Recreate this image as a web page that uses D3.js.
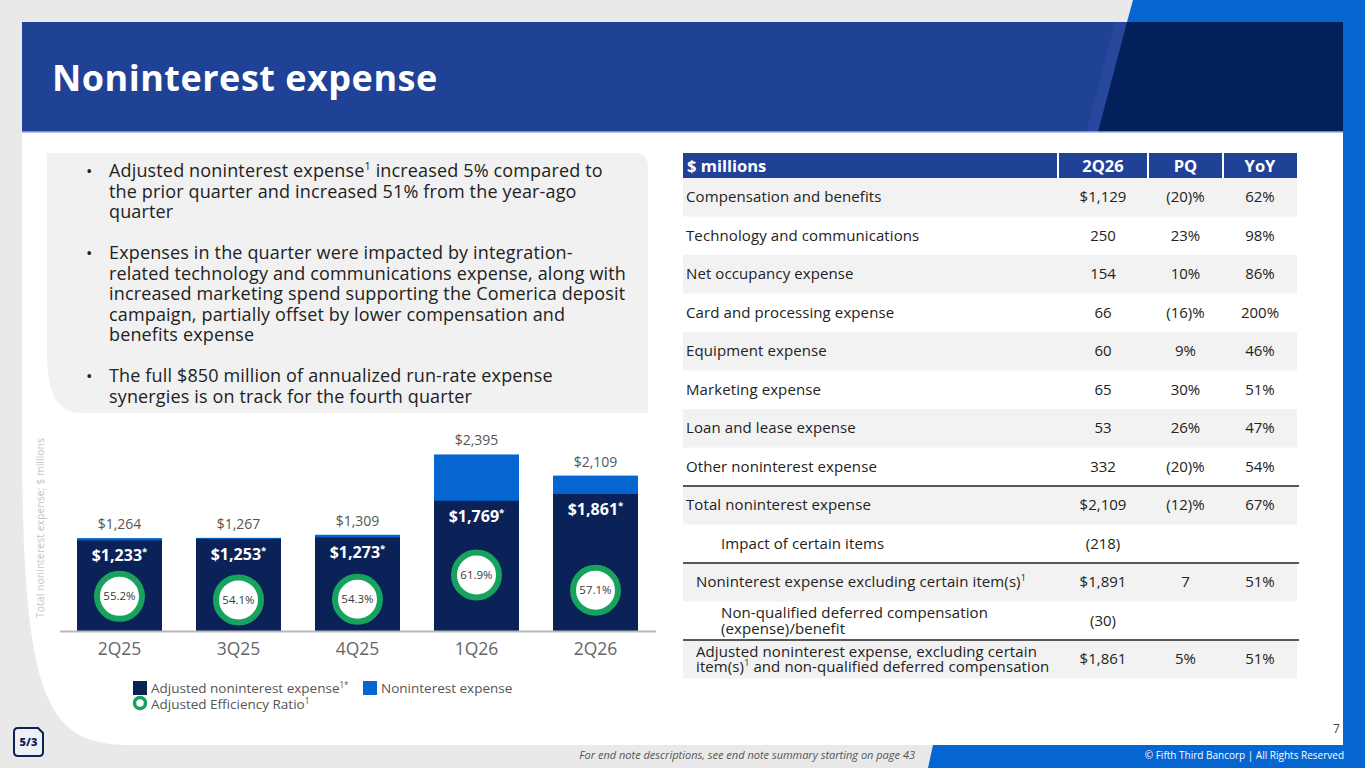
<!DOCTYPE html>
<html>
<head>
<meta charset="utf-8">
<script src="https://cdn.jsdelivr.net/npm/d3@7"></script>
<style>
  body { margin: 0; background: #e9e9e9; }
  svg { display: block; font-family: "Open Sans", sans-serif; }
</style>
</head>
<body>
<div id="slide"></div>
<script>
// chart data
const quarters = ["2Q25", "3Q25", "4Q25", "1Q26", "2Q26"];
const totalExpense = [1264, 1267, 1309, 2395, 2109];
const adjustedExpense = [1233, 1253, 1273, 1769, 1861];
const efficiencyRatio = [55.2, 54.1, 54.3, 61.9, 57.1];

// table data
const tableHeader = ["$ millions", "2Q26", "PQ", "YoY"];
const rowLabels = [
    "Compensation and benefits",
    "Technology and communications",
    "Net occupancy expense",
    "Card and processing expense",
    "Equipment expense",
    "Marketing expense",
    "Loan and lease expense",
    "Other noninterest expense",
    "Total noninterest expense",
    "Impact of certain items",
    "Noninterest expense excluding certain item(s)^1",
    "Non-qualified deferred compensation\n(expense)/benefit",
    "Adjusted noninterest expense, excluding certain\nitem(s)^1 and non-qualified deferred compensation"
];
const q2Values = ["$1,129", "250", "154", "66", "60", "65", "53", "332", "$2,109", "(218)", "$1,891", "(30)", "$1,861"];
const pqValues = ["(20)%", "23%", "10%", "(16)%", "9%", "30%", "26%", "(20)%", "(12)%", "", "7", "", "5%"];
const yoyValues = ["62%", "98%", "86%", "200%", "46%", "51%", "47%", "54%", "67%", "", "51%", "", "51%"];
const rowIndent = [0, 0, 0, 0, 0, 0, 0, 0, 0, 2, 1, 2, 1];
const ruleAbove = [8, 10, 12];

const bullets = [
    ["Adjusted noninterest expense^1 increased 5% compared to",
     "the prior quarter and increased 51% from the year-ago",
     "quarter"],
    ["Expenses in the quarter were impacted by integration-",
     "related technology and communications expense, along with",
     "increased marketing spend supporting the Comerica deposit",
     "campaign, partially offset by lower compensation and",
     "benefits expense"],
    ["The full $850 million of annualized run-rate expense",
     "synergies is on track for the fourth quarter"]
];

const navy = "#0b2258", brightBlue = "#0566d1", green = "#17a35e", headerBlue = "#1f4196";

const width = 1365, height = 768;
const svg = d3.select("#slide").append("svg")
    .attr("width", width)
    .attr("height", height);

// writes text with "^x" parts as superscripts
function richText(sel, str) {
    str.split(/(\^\S+)/).forEach(part => {
        if (!part) return;
        if (part[0] === "^") {
            sel.append("tspan").attr("baseline-shift", "super").attr("font-size", "60%").text(part.slice(1));
        } else {
            sel.append("tspan").text(part);
        }
    });
}

// ---- frame ----
svg.append("rect").attr("width", width).attr("height", height).attr("fill", "#e9e9e9");
svg.append("path")
    .attr("d", "M1133,0H1365V768H928L933,745H1343V22H1127Z")
    .attr("fill", "#0566d1");
svg.append("path")
    .attr("d", "M22,132H1343V745H130C45,745 22,700 22,430Z")
    .attr("fill", "white");
svg.append("rect").attr("x", 22).attr("y", 22).attr("width", 1321).attr("height", 110).attr("fill", headerBlue);
svg.append("path").attr("d", "M1115,22H1140L1111,132H1086Z").attr("fill", "#26479b");
svg.append("path").attr("d", "M1127,22H1343V132H1098Z").attr("fill", "#02205a");
svg.append("line").attr("x1", 22).attr("x2", 1343).attr("y1", 132).attr("y2", 132)
    .attr("stroke", "#9cb0da").attr("stroke-width", 1.5);

svg.append("text")
    .attr("x", 52).attr("y", 91)
    .attr("fill", "white").attr("font-size", 36).attr("font-weight", 700)
    .attr("letter-spacing", 0.5)
    .text("Noninterest expense");

// ---- bullet panel ----
svg.append("path")
    .attr("d", "M47,153H634Q648,153 648,167V413H82C58,413 47,395 47,355Z")
    .attr("fill", "#f1f1f1");

const bulletTop = [177, 259, 382];
bullets.forEach((lines, b) => {
    svg.append("text").attr("x", 86).attr("y", bulletTop[b])
        .attr("font-size", 17).attr("fill", "#222").text("•");
    lines.forEach((ln, i) => {
        const t = svg.append("text")
            .attr("x", 109).attr("y", bulletTop[b] + i * 20.5)
            .attr("font-size", 18).attr("letter-spacing", 0.15).attr("fill", "#222");
        richText(t, ln);
    });
});

// ---- bar chart ----
const x = d3.scaleBand()
    .domain(quarters)
    .range([60, 655])
    .paddingInner(0.286)
    .paddingOuter(0.143);

const y = d3.scaleLinear()
    .domain([0, 2400])
    .range([631.5, 454.1]);

// efficiency ratio rings sit on their own scale
const y2 = d3.scaleLinear()
    .domain([50, 65])
    .range([613, 565]);

const chart = svg.append("g");

chart.selectAll("rect.total")
    .data(quarters)
    .join("rect")
    .attr("class", "total")
    .attr("x", d => x(d))
    .attr("width", x.bandwidth())
    .attr("y", (d, i) => y(totalExpense[i]))
    .attr("height", (d, i) => y(0) - y(totalExpense[i]))
    .attr("fill", brightBlue);

chart.selectAll("rect.adj")
    .data(quarters)
    .join("rect")
    .attr("class", "adj")
    .attr("x", d => x(d))
    .attr("width", x.bandwidth())
    .attr("y", (d, i) => y(adjustedExpense[i]))
    .attr("height", (d, i) => y(0) - y(adjustedExpense[i]))
    .attr("fill", navy);

chart.selectAll("text.total")
    .data(quarters)
    .join("text")
    .attr("class", "total")
    .attr("x", d => x(d) + x.bandwidth() / 2)
    .attr("y", (d, i) => y(totalExpense[i]) - 9)
    .attr("text-anchor", "middle")
    .attr("font-size", 14).attr("fill", "#555")
    .text((d, i) => "$" + d3.format(",")(totalExpense[i]));

chart.selectAll("text.adj")
    .data(quarters)
    .join("text")
    .attr("class", "adj")
    .attr("x", d => x(d) + x.bandwidth() / 2)
    .attr("y", (d, i) => y(adjustedExpense[i]) + 21)
    .attr("text-anchor", "middle")
    .attr("font-size", 16).attr("font-weight", 700).attr("fill", "white")
    .each(function (d, i) {
        richText(d3.select(this), "$" + d3.format(",")(adjustedExpense[i]) + "^*");
    });

chart.selectAll("circle.ratio")
    .data(quarters)
    .join("circle")
    .attr("class", "ratio")
    .attr("cx", d => x(d) + x.bandwidth() / 2)
    .attr("cy", (d, i) => y2(efficiencyRatio[i]))
    .attr("r", 22.5)
    .attr("fill", "white")
    .attr("stroke", green)
    .attr("stroke-width", 6);

chart.selectAll("text.ratio")
    .data(quarters)
    .join("text")
    .attr("class", "ratio")
    .attr("x", d => x(d) + x.bandwidth() / 2)
    .attr("y", (d, i) => y2(efficiencyRatio[i]) + 4)
    .attr("text-anchor", "middle")
    .attr("font-size", 11.5).attr("font-weight", 500).attr("fill", "#3a3a3a")
    .text((d, i) => efficiencyRatio[i].toFixed(1) + "%");

const xAxis = chart.append("g")
    .attr("transform", `translate(0,${y(0)})`)
    .call(d3.axisBottom(x).tickSize(0).tickSizeOuter(0).tickPadding(11));
xAxis.select(".domain").attr("stroke", "#b8b8b8").attr("stroke-width", 2).attr("d", "M60,0H656");
xAxis.selectAll("text").attr("font-size", 17.5).attr("fill", "#666").attr("font-family", "Open Sans");

svg.append("text")
    .attr("transform", "translate(44,528) rotate(-90)")
    .attr("text-anchor", "middle")
    .attr("font-size", 10.5).attr("fill", "#c4c4c4")
    .text("Total noninterest expense; $ millions");

// legend
const legend = svg.append("g").attr("font-size", 13.5).attr("fill", "#555");
legend.append("rect").attr("x", 133).attr("y", 681).attr("width", 14).attr("height", 14).attr("fill", navy);
richText(legend.append("text").attr("x", 151).attr("y", 693), "Adjusted noninterest expense^1*");
legend.append("rect").attr("x", 363).attr("y", 681).attr("width", 14).attr("height", 14).attr("fill", brightBlue);
legend.append("text").attr("x", 381).attr("y", 693).text("Noninterest expense");
legend.append("circle").attr("cx", 140).attr("cy", 703).attr("r", 5.5)
    .attr("fill", "white").attr("stroke", green).attr("stroke-width", 3.5);
richText(legend.append("text").attr("x", 151).attr("y", 709), "Adjusted Efficiency Ratio^1");

// ---- table ----
const colEdges = [683, 1058, 1148, 1223, 1297];
const headTop = 153, headH = 25, rowH = 38.5, rowTop = headTop + headH;
const cellFont = 15;

const table = svg.append("g");
table.append("rect")
    .attr("x", colEdges[0]).attr("y", headTop)
    .attr("width", colEdges[4] - colEdges[0]).attr("height", headH)
    .attr("fill", headerBlue);
colEdges.slice(1, 4).forEach(cx => {
    table.append("line").attr("x1", cx).attr("x2", cx).attr("y1", headTop).attr("y2", headTop + headH)
        .attr("stroke", "white").attr("stroke-width", 2);
});
tableHeader.forEach((h, i) => {
    table.append("text")
        .attr("x", i === 0 ? colEdges[0] + 4 : (colEdges[i] + colEdges[i + 1]) / 2)
        .attr("y", headTop + 18.5)
        .attr("text-anchor", i === 0 ? "start" : "middle")
        .attr("font-size", 16.5).attr("font-weight", 700).attr("fill", "white")
        .text(h);
});

rowLabels.forEach((label, r) => {
    const top = rowTop + r * rowH;
    const mid = top + rowH / 2;
    if (r % 2 === 0) {
        table.append("rect")
            .attr("x", colEdges[0]).attr("y", top)
            .attr("width", colEdges[4] - colEdges[0]).attr("height", rowH)
            .attr("fill", "#f2f2f2");
    }
    const lines = label.split("\n");
    const lx = colEdges[0] + 3 + (rowIndent[r] === 2 ? 35 : rowIndent[r] === 1 ? 10 : 0);
    lines.forEach((ln, i) => {
        const t = table.append("text")
            .attr("x", lx)
            .attr("y", mid + 5 + (i - (lines.length - 1) / 2) * 15.5)
            .attr("font-size", cellFont).attr("letter-spacing", 0.1).attr("fill", "#222");
        richText(t, ln);
    });
    [q2Values[r], pqValues[r], yoyValues[r]].forEach((v, c) => {
        table.append("text")
            .attr("x", (colEdges[c + 1] + colEdges[c + 2]) / 2)
            .attr("y", mid + 5)
            .attr("text-anchor", "middle")
            .attr("font-size", cellFont).attr("fill", "#222")
            .text(v);
    });
});

ruleAbove.forEach(r => {
    table.append("line")
        .attr("x1", colEdges[0]).attr("x2", colEdges[4] + 2)
        .attr("y1", rowTop + r * rowH).attr("y2", rowTop + r * rowH)
        .attr("stroke", "#222").attr("stroke-width", 1.5);
});

// ---- footer ----
svg.append("text").attr("x", 1333).attr("y", 733).attr("font-size", 12).attr("fill", "#444").text("7");
svg.append("text").attr("x", 915).attr("y", 759).attr("text-anchor", "end")
    .attr("font-size", 11).attr("font-style", "italic").attr("fill", "#555")
    .text("For end note descriptions, see end note summary starting on page 43");
svg.append("text").attr("x", 1344).attr("y", 759).attr("text-anchor", "end")
    .attr("font-size", 10).attr("fill", "white")
    .text("© Fifth Third Bancorp | All Rights Reserved");

const logo = svg.append("g");
logo.append("path")
    .attr("d", "M18,728H38L43,733V752Q43,756 39,756H18Q14,756 14,752V732Q14,728 18,728Z")
    .attr("fill", "#eef0f5").attr("stroke", navy).attr("stroke-width", 2);
logo.append("text").attr("x", 28.5).attr("y", 746).attr("text-anchor", "middle")
    .attr("font-size", 11).attr("font-weight", 800).attr("fill", navy).text("5/3");
</script>
</body>
</html>
